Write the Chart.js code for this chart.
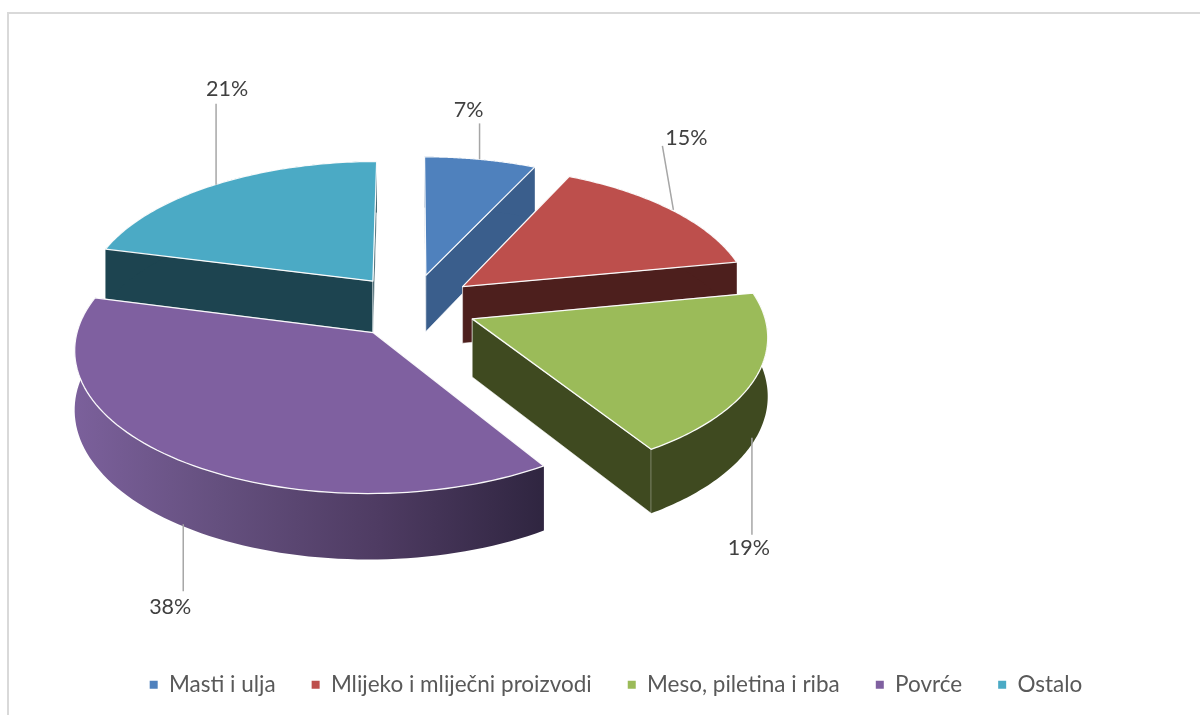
<!DOCTYPE html>
<html><head><meta charset="utf-8">
<style>html,body{margin:0;padding:0;background:#fff}canvas{display:block}</style>
<script src="https://cdn.jsdelivr.net/npm/chart.js@4"></script></head>
<body><canvas id="c" width="1200" height="715"></canvas>
<script>
const categories = ['Masti i ulja','Mlijeko i mliječni proizvodi','Meso, piletina i riba','Povrće','Ostalo'];
const shares = [7,15,19,38,21];
const topColors = ['#4F81BD','#BD4F4C','#9BBB59','#7F60A0','#4BAAC5'];
const sideColors = ['#3A5E8C','#4D1F1D','#3F4A20','#4F3B65','#1D4450'];

const geo = {cx:412, cy:306, Rx:290, Ry:278, E:65, k:0.4947, p:0.000387, D:57.5};
const paintOrder = [0,4,1,2,3];
const anchorDx = [-1,2,-4,5,1];
const leaderEnd = [[0,-36],[-11,-64],[0,97],[0,67],[0,-81]];
const labelAt = [[-11,-49],[13,-72],[-3,110],[-13,83],[11,-96]];

function project(u,v,z){
  const w = 1/(1-geo.p*v);
  return [geo.cx+u*w, geo.cy+geo.k*v*w+z*geo.D*w];
}
function pieSlicePoint(mid,a,r,z){
  return project(geo.E*Math.cos(mid)+r*geo.Rx*Math.cos(a), geo.E*Math.sin(mid)+r*geo.Ry*Math.sin(a), z);
}
function poly(ctx,pts){ctx.beginPath();pts.forEach((q,i)=>i?ctx.lineTo(q[0],q[1]):ctx.moveTo(q[0],q[1]));ctx.closePath();}

const pie3d = {
  id:'pie3d',
  beforeDraw(chart){
    const c=chart.ctx;c.save();c.strokeStyle='#D9D9D9';c.lineWidth=2;
    c.beginPath();c.moveTo(8,715);c.lineTo(8,13);c.lineTo(1200,13);c.stroke();c.restore();
  },
  beforeDatasetsDraw(chart){
    const ctx=chart.ctx, arcs=chart.getDatasetMeta(0).data;
    ctx.save();
    ctx.lineJoin='round';
    paintOrder.forEach(i=>{
      const a0=arcs[i].startAngle,a1=arcs[i].endAngle,mid=(a0+a1)/2;
      const rim0=[],rim1=[],N=80;
      for(let s=0;s<=N;s++){const a=a0+(a1-a0)*s/N;
        rim0.push(pieSlicePoint(mid,a,1,0));rim1.push(pieSlicePoint(mid,a,1,1));}
      const ap0=pieSlicePoint(mid,0,0,0),ap1=pieSlicePoint(mid,0,0,1);
      [[rim0[0],rim1[0]],[rim0[N],rim1[N]]].forEach(f=>{
        poly(ctx,[ap0,f[0],f[1],ap1]);
        ctx.fillStyle=sideColors[i];ctx.fill();
        ctx.strokeStyle='rgba(255,255,255,.55)';ctx.lineWidth=1;ctx.stroke();
      });
      poly(ctx,rim0.concat(rim1.slice().reverse()));
      if(i===3){
        const g=ctx.createLinearGradient(75,0,545,0);
        g.addColorStop(0,'#7B609B');g.addColorStop(.3,'#65507F');g.addColorStop(.65,'#4E3B62');g.addColorStop(1,'#2F2540');
        ctx.fillStyle=g;
      } else ctx.fillStyle=sideColors[i];
      ctx.fill();
      poly(ctx,[ap0].concat(rim0));
      ctx.fillStyle=topColors[i];ctx.fill();
      ctx.strokeStyle='rgba(255,255,255,.95)';ctx.lineWidth=1.3;ctx.stroke();
    });
    const total=shares.reduce((a,b)=>a+b,0);
    ctx.font='21.5px Lato';ctx.textAlign='center';ctx.textBaseline='middle';
    shares.forEach((val,i)=>{
      const mid=(arcs[i].startAngle+arcs[i].endAngle)/2;
      const front=Math.sin(mid)>0.3;
      const q=pieSlicePoint(mid,mid,1,front?1:0);
      q[0]+=anchorDx[i];
      ctx.strokeStyle='#A6A6A6';ctx.lineWidth=1.5;
      ctx.beginPath();ctx.moveTo(q[0],q[1]);ctx.lineTo(q[0]+leaderEnd[i][0],q[1]+leaderEnd[i][1]);ctx.stroke();
      ctx.fillStyle='#404040';
      ctx.fillText(Math.round(val/total*100)+'%',q[0]+labelAt[i][0],q[1]+labelAt[i][1]);
    });
    ctx.restore();
    return false;
  }
};

new Chart(document.getElementById('c'),{
  type:'pie',
  data:{labels:categories,datasets:[{data:shares,backgroundColor:topColors,borderWidth:0}]},
  options:{
    responsive:false,animation:false,
    layout:{padding:{left:32,bottom:9}},
    plugins:{
      tooltip:{enabled:false},
      legend:{position:'bottom',labels:{boxWidth:8,boxHeight:8,padding:36,color:'#595959',font:{family:'Lato',size:22.5}}}
    }
  },
  plugins:[pie3d]
});
</script></body></html>
